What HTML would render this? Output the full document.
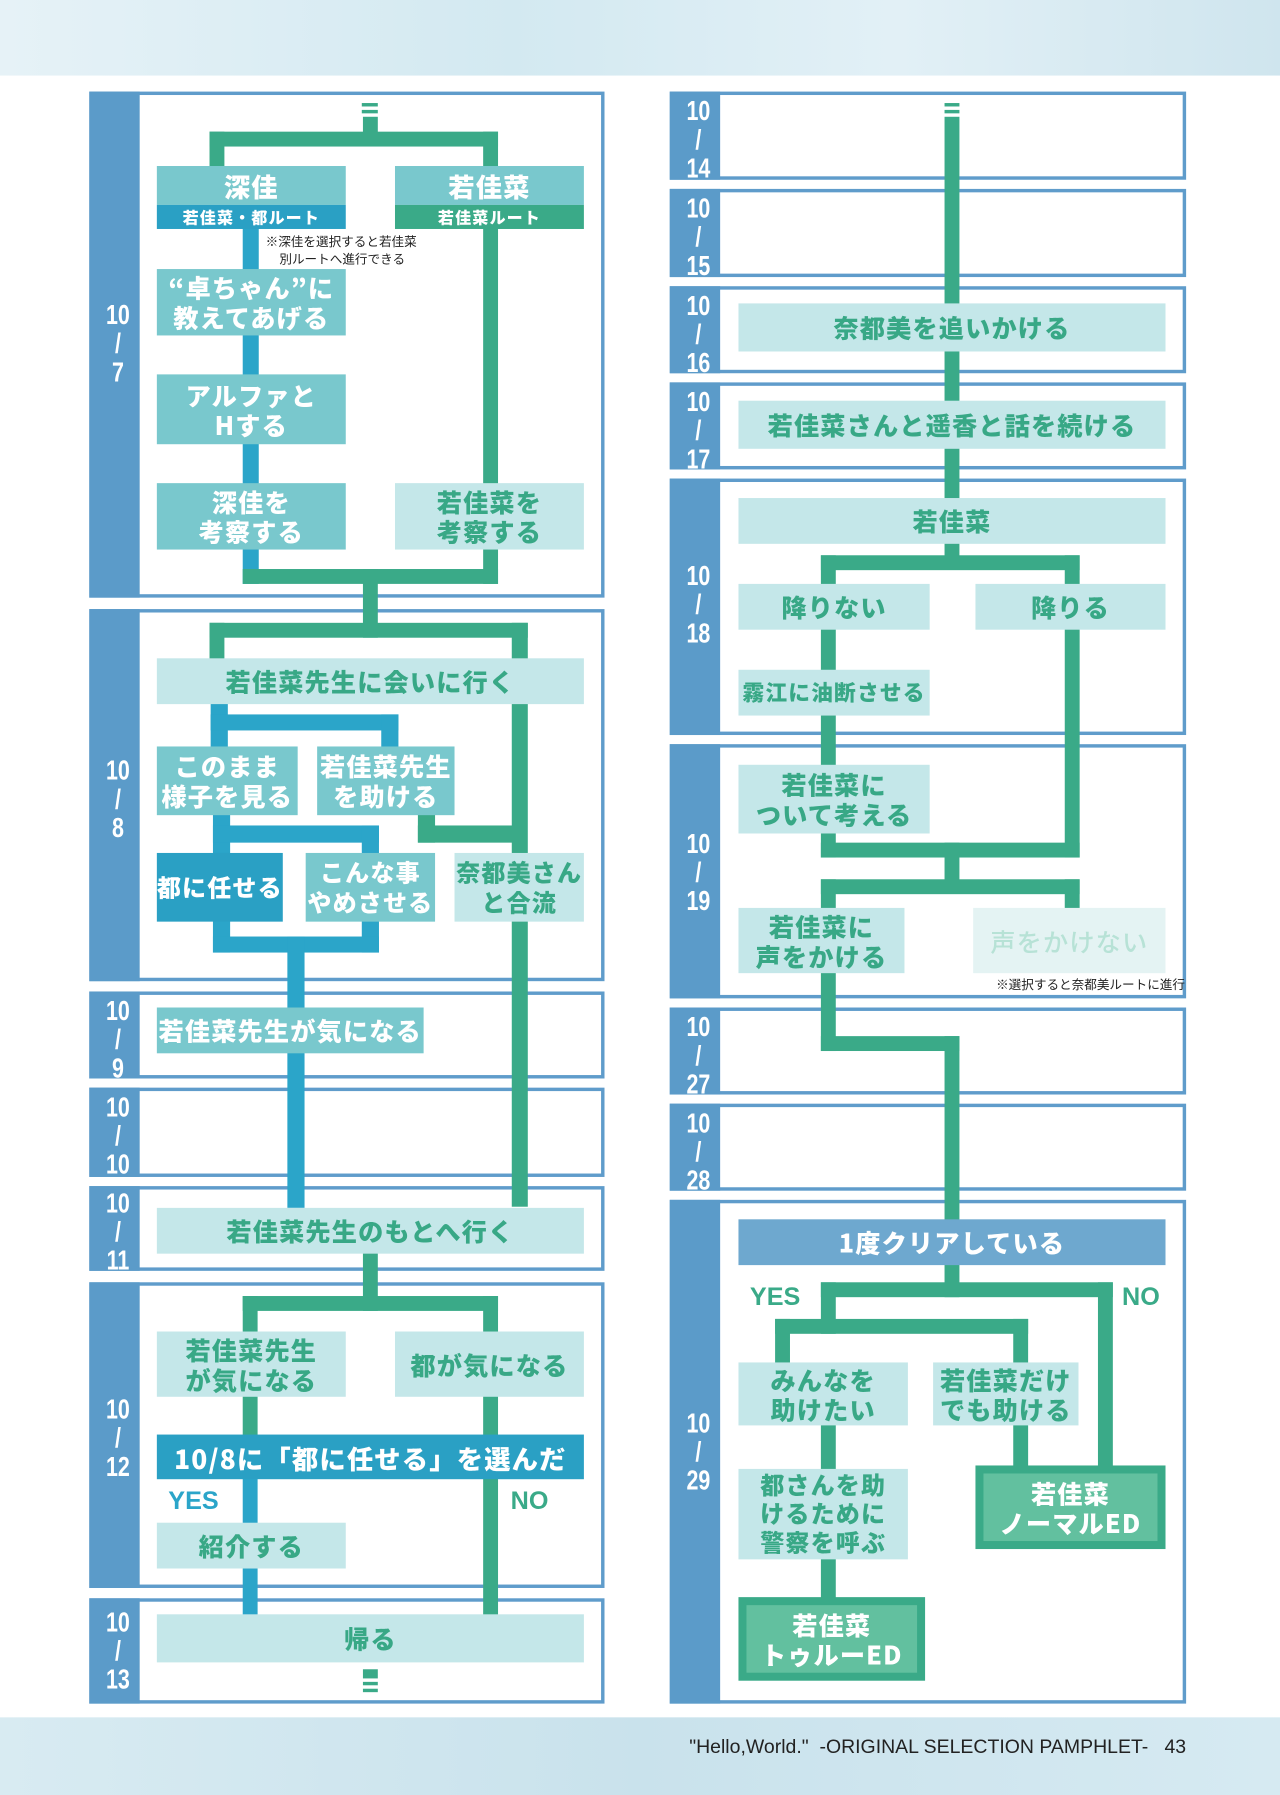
<!DOCTYPE html>
<html><head><meta charset="utf-8"><style>
html,body{margin:0;padding:0;width:1280px;height:1795px;overflow:hidden;background:#fff}
#w{position:absolute;left:0;top:0;width:1118px;height:1568px;transform:scale(1.1449);transform-origin:0 0;font-family:"Liberation Sans","Noto Sans CJK JP",sans-serif}
div{position:absolute;box-sizing:border-box}
.p{border:3px solid #5f9ccb;background:#fff}
.d{left:-3px;top:-3px;bottom:-3px;width:44px;background:#5b9bc9}
.dl{left:0;width:44px;color:#fff;font-weight:bold;font-size:24px;line-height:25px;text-align:center;transform:scaleX(.78)}
.g{background:#3aaa88}
.b{background:#2ba5c9}
.bx{display:flex;align-items:center;justify-content:center;text-align:center;font-family:"Noto Sans CJK JP",sans-serif;font-weight:900;font-size:22px;line-height:26px;letter-spacing:1px}
.L{background:#c4e7e9;color:#38a886}
.T{background:#79c8cd;color:#fff}
.D{background:#2aa0c4;color:#fff}
.E{background:#3aaa88;padding:7px}
.E>div{position:relative;width:100%;height:100%;background:#62c09f;color:#fff;display:flex;align-items:center;justify-content:center;text-align:center}
.sm{font-family:"Noto Sans CJK JP",sans-serif;font-size:11px;line-height:14px;color:#222;white-space:nowrap}
.yn{font-family:"Liberation Sans",sans-serif;font-weight:bold;font-size:22px}
</style></head><body><div id="w">
<div style="left:0;top:0;width:1118px;height:66px;background:linear-gradient(90deg,#e6f2f7,#d3e9f1 40%,#e2f0f6 70%,#cfe5ee)"></div>
<div style="left:0;top:1500px;width:1118px;height:68px;background:linear-gradient(90deg,#d8ebf2,#c9e2ec 50%,#d6eaf2)"></div>
<div style="left:540px;top:1516px;width:496px;text-align:right;font-size:17px;color:#222;white-space:nowrap">"Hello,World."&nbsp; -ORIGINAL SELECTION PAMPHLET- &nbsp; 43</div>

<!-- left panels -->
<div class="p" style="left:78px;top:80px;width:450px;height:442px"><div class="d"></div><div class="dl" style="top:180px">10<br>/<br>7</div></div>
<div class="p" style="left:78px;top:532px;width:450px;height:325px"><div class="d"></div><div class="dl" style="top:126px">10<br>/<br>8</div></div>
<div class="p" style="left:78px;top:866px;width:450px;height:76px"><div class="d"></div><div class="dl" style="top:2px">10<br>/<br>9</div></div>
<div class="p" style="left:78px;top:950px;width:450px;height:78px"><div class="d"></div><div class="dl" style="top:2px">10<br>/<br>10</div></div>
<div class="p" style="left:78px;top:1036px;width:450px;height:74px"><div class="d"></div><div class="dl" style="top:0px">10<br>/<br>11</div></div>
<div class="p" style="left:78px;top:1120px;width:450px;height:267px"><div class="d"></div><div class="dl" style="top:96px">10<br>/<br>12</div></div>
<div class="p" style="left:78px;top:1396px;width:450px;height:92px"><div class="d"></div><div class="dl" style="top:6px">10<br>/<br>13</div></div>
<!-- right panels -->
<div class="p" style="left:585px;top:80px;width:451px;height:77px"><div class="d"></div><div class="dl" style="top:2px">10<br>/<br>14</div></div>
<div class="p" style="left:585px;top:165px;width:451px;height:77px"><div class="d"></div><div class="dl" style="top:2px">10<br>/<br>15</div></div>
<div class="p" style="left:585px;top:250px;width:451px;height:76px"><div class="d"></div><div class="dl" style="top:2px">10<br>/<br>16</div></div>
<div class="p" style="left:585px;top:334px;width:451px;height:76px"><div class="d"></div><div class="dl" style="top:2px">10<br>/<br>17</div></div>
<div class="p" style="left:585px;top:418px;width:451px;height:224px"><div class="d"></div><div class="dl" style="top:70px">10<br>/<br>18</div></div>
<div class="p" style="left:585px;top:650px;width:451px;height:222px"><div class="d"></div><div class="dl" style="top:72px">10<br>/<br>19</div></div>
<div class="p" style="left:585px;top:880px;width:451px;height:76px"><div class="d"></div><div class="dl" style="top:2px">10<br>/<br>27</div></div>
<div class="p" style="left:585px;top:964px;width:451px;height:76px"><div class="d"></div><div class="dl" style="top:2px">10<br>/<br>28</div></div>
<div class="p" style="left:585px;top:1048px;width:451px;height:440px"><div class="d"></div><div class="dl" style="top:180px">10<br>/<br>29</div></div>

<!-- left lines -->
<div class="g" style="left:316px;top:90px;width:14px;height:3px"></div>
<div class="g" style="left:316px;top:96px;width:14px;height:3px"></div>
<div class="g" style="left:317px;top:102px;width:13px;height:25px"></div>
<div class="g" style="left:183px;top:115px;width:252px;height:13px"></div>
<div class="g" style="left:183px;top:115px;width:13px;height:32px"></div>
<div class="g" style="left:422px;top:115px;width:13px;height:32px"></div>
<div class="b" style="left:212px;top:199px;width:14px;height:311px"></div>
<div class="g" style="left:422px;top:199px;width:13px;height:311px"></div>
<div class="g" style="left:212px;top:497px;width:223px;height:13px"></div>
<div class="g" style="left:317px;top:497px;width:13px;height:60px"></div>
<div class="g" style="left:183px;top:544px;width:278px;height:13px"></div>
<div class="g" style="left:183px;top:544px;width:13px;height:32px"></div>
<div class="g" style="left:447px;top:544px;width:14px;height:510px"></div>
<div class="b" style="left:184px;top:614px;width:15px;height:40px"></div>
<div class="b" style="left:184px;top:624px;width:164px;height:14px"></div>
<div class="b" style="left:333px;top:624px;width:15px;height:30px"></div>
<div class="g" style="left:365px;top:710px;width:15px;height:26px"></div>
<div class="g" style="left:365px;top:721px;width:92px;height:15px"></div>
<div class="b" style="left:186px;top:710px;width:15px;height:122px"></div>
<div class="b" style="left:186px;top:721px;width:145px;height:15px"></div>
<div class="b" style="left:316px;top:721px;width:15px;height:111px"></div>
<div class="b" style="left:186px;top:818px;width:145px;height:14px"></div>
<div class="b" style="left:251px;top:818px;width:15px;height:237px"></div>
<div class="g" style="left:317px;top:1093px;width:13px;height:52px"></div>
<div class="g" style="left:212px;top:1132px;width:223px;height:13px"></div>
<div class="g" style="left:212px;top:1132px;width:13px;height:33px"></div>
<div class="g" style="left:422px;top:1132px;width:13px;height:280px"></div>
<div class="g" style="left:212px;top:1218px;width:13px;height:37px"></div>
<div class="b" style="left:212px;top:1290px;width:13px;height:122px"></div>
<div class="g" style="left:317px;top:1458px;width:13px;height:8px"></div>
<div class="g" style="left:317px;top:1469px;width:13px;height:3px"></div>
<div class="g" style="left:317px;top:1475px;width:13px;height:3px"></div>

<!-- right lines -->
<div class="g" style="left:825px;top:90px;width:13px;height:3px"></div>
<div class="g" style="left:825px;top:96px;width:13px;height:3px"></div>
<div class="g" style="left:825px;top:102px;width:13px;height:388px"></div>
<div class="g" style="left:717px;top:485px;width:226px;height:13px"></div>
<div class="g" style="left:717px;top:485px;width:13px;height:264px"></div>
<div class="g" style="left:930px;top:485px;width:13px;height:264px"></div>
<div class="g" style="left:717px;top:736px;width:226px;height:13px"></div>
<div class="g" style="left:825px;top:736px;width:13px;height:44px"></div>
<div class="g" style="left:717px;top:768px;width:226px;height:13px"></div>
<div class="g" style="left:717px;top:768px;width:13px;height:150px"></div>
<div class="g" style="left:930px;top:768px;width:13px;height:27px"></div>
<div class="g" style="left:717px;top:905px;width:121px;height:13px"></div>
<div class="g" style="left:825px;top:905px;width:13px;height:162px"></div>
<div class="g" style="left:825px;top:1103px;width:13px;height:30px"></div>
<div class="g" style="left:717px;top:1120px;width:255px;height:13px"></div>
<div class="g" style="left:959px;top:1120px;width:13px;height:162px"></div>
<div class="g" style="left:717px;top:1120px;width:13px;height:45px"></div>
<div class="g" style="left:677px;top:1152px;width:221px;height:13px"></div>
<div class="g" style="left:677px;top:1152px;width:13px;height:40px"></div>
<div class="g" style="left:885px;top:1152px;width:13px;height:130px"></div>
<div class="g" style="left:717px;top:1243px;width:13px;height:154px"></div>

<!-- left boxes -->
<div class="bx T" style="left:137px;top:145px;width:165px;height:34px;font-size:23px">深佳</div>
<div class="bx D" style="left:137px;top:179px;width:165px;height:21px;font-size:14px;line-height:16px">若佳菜・都ルート</div>
<div class="bx T" style="left:345px;top:145px;width:165px;height:34px;font-size:23px">若佳菜</div>
<div class="bx" style="left:345px;top:179px;width:165px;height:21px;font-size:14px;line-height:16px;background:#3aaa88;color:#fff">若佳菜ルート</div>
<div class="sm" style="left:232px;top:204px">※深佳を選択すると若佳菜</div>
<div class="sm" style="left:244px;top:219px">別ルートへ進行できる</div>
<div class="bx T" style="left:137px;top:235px;width:165px;height:58px">“卓ちゃん”に<br>教えてあげる</div>
<div class="bx T" style="left:137px;top:327px;width:165px;height:61px">アルファと<br>Hする</div>
<div class="bx T" style="left:137px;top:422px;width:165px;height:58px">深佳を<br>考察する</div>
<div class="bx L" style="left:345px;top:422px;width:165px;height:58px">若佳菜を<br>考察する</div>
<div class="bx L" style="left:137px;top:575px;width:373px;height:40px">若佳菜先生に会いに行く</div>
<div class="bx T" style="left:137px;top:652px;width:123px;height:60px">このまま<br>様子を見る</div>
<div class="bx T" style="left:277px;top:652px;width:120px;height:60px">若佳菜先生<br>を助ける</div>
<div class="bx D" style="left:137px;top:745px;width:110px;height:60px;font-size:21px">都に任せる</div>
<div class="bx T" style="left:267px;top:745px;width:113px;height:60px;font-size:21px">こんな事<br>やめさせる</div>
<div class="bx L" style="left:397px;top:745px;width:113px;height:60px;font-size:21px">奈都美さん<br>と合流</div>
<div class="bx T" style="left:137px;top:880px;width:233px;height:40px">若佳菜先生が気になる</div>
<div class="bx L" style="left:137px;top:1055px;width:373px;height:40px">若佳菜先生のもとへ行く</div>
<div class="bx L" style="left:137px;top:1163px;width:165px;height:57px">若佳菜先生<br>が気になる</div>
<div class="bx L" style="left:345px;top:1163px;width:165px;height:57px">都が気になる</div>
<div class="bx D" style="left:137px;top:1253px;width:373px;height:39px;font-size:23px">10/8に「都に任せる」を選んだ</div>
<div class="yn" style="left:147px;top:1298px;color:#2ba5c9">YES</div>
<div class="yn" style="left:446px;top:1298px;color:#3aaa88">NO</div>
<div class="bx L" style="left:137px;top:1330px;width:165px;height:40px">紹介する</div>
<div class="bx L" style="left:137px;top:1410px;width:373px;height:42px">帰る</div>

<!-- right boxes -->
<div class="bx L" style="left:645px;top:265px;width:373px;height:42px">奈都美を追いかける</div>
<div class="bx L" style="left:645px;top:350px;width:373px;height:42px">若佳菜さんと遥香と話を続ける</div>
<div class="bx L" style="left:645px;top:435px;width:373px;height:40px">若佳菜</div>
<div class="bx L" style="left:645px;top:510px;width:167px;height:40px">降りない</div>
<div class="bx L" style="left:852px;top:510px;width:166px;height:40px">降りる</div>
<div class="bx L" style="left:645px;top:585px;width:167px;height:40px;font-size:19px">霧江に油断させる</div>
<div class="bx L" style="left:645px;top:668px;width:167px;height:60px">若佳菜に<br>ついて考える</div>
<div class="bx L" style="left:645px;top:793px;width:145px;height:57px">若佳菜に<br>声をかける</div>
<div class="bx" style="left:850px;top:793px;width:168px;height:57px;background:#e4f3f3;color:#b7e2d6;font-weight:500">声をかけない</div>
<div class="sm" style="left:870px;top:853px">※選択すると奈都美ルートに進行</div>
<div class="bx" style="left:645px;top:1065px;width:373px;height:40px;background:#6ea8cf;color:#fff">1度クリアしている</div>
<div class="yn" style="left:655px;top:1120px;color:#3aaa88">YES</div>
<div class="yn" style="left:980px;top:1120px;color:#3aaa88">NO</div>
<div class="bx L" style="left:645px;top:1190px;width:148px;height:55px">みんなを<br>助けたい</div>
<div class="bx L" style="left:815px;top:1190px;width:127px;height:55px">若佳菜だけ<br>でも助ける</div>
<div class="bx L" style="left:645px;top:1283px;width:148px;height:79px;font-size:21px;line-height:25px">都さんを助<br>けるために<br>警察を呼ぶ</div>
<div class="bx E" style="left:852px;top:1280px;width:166px;height:73px"><div>若佳菜<br>ノーマルED</div></div>
<div class="bx E" style="left:645px;top:1395px;width:163px;height:73px"><div>若佳菜<br>トゥルーED</div></div>
</div></body></html>
